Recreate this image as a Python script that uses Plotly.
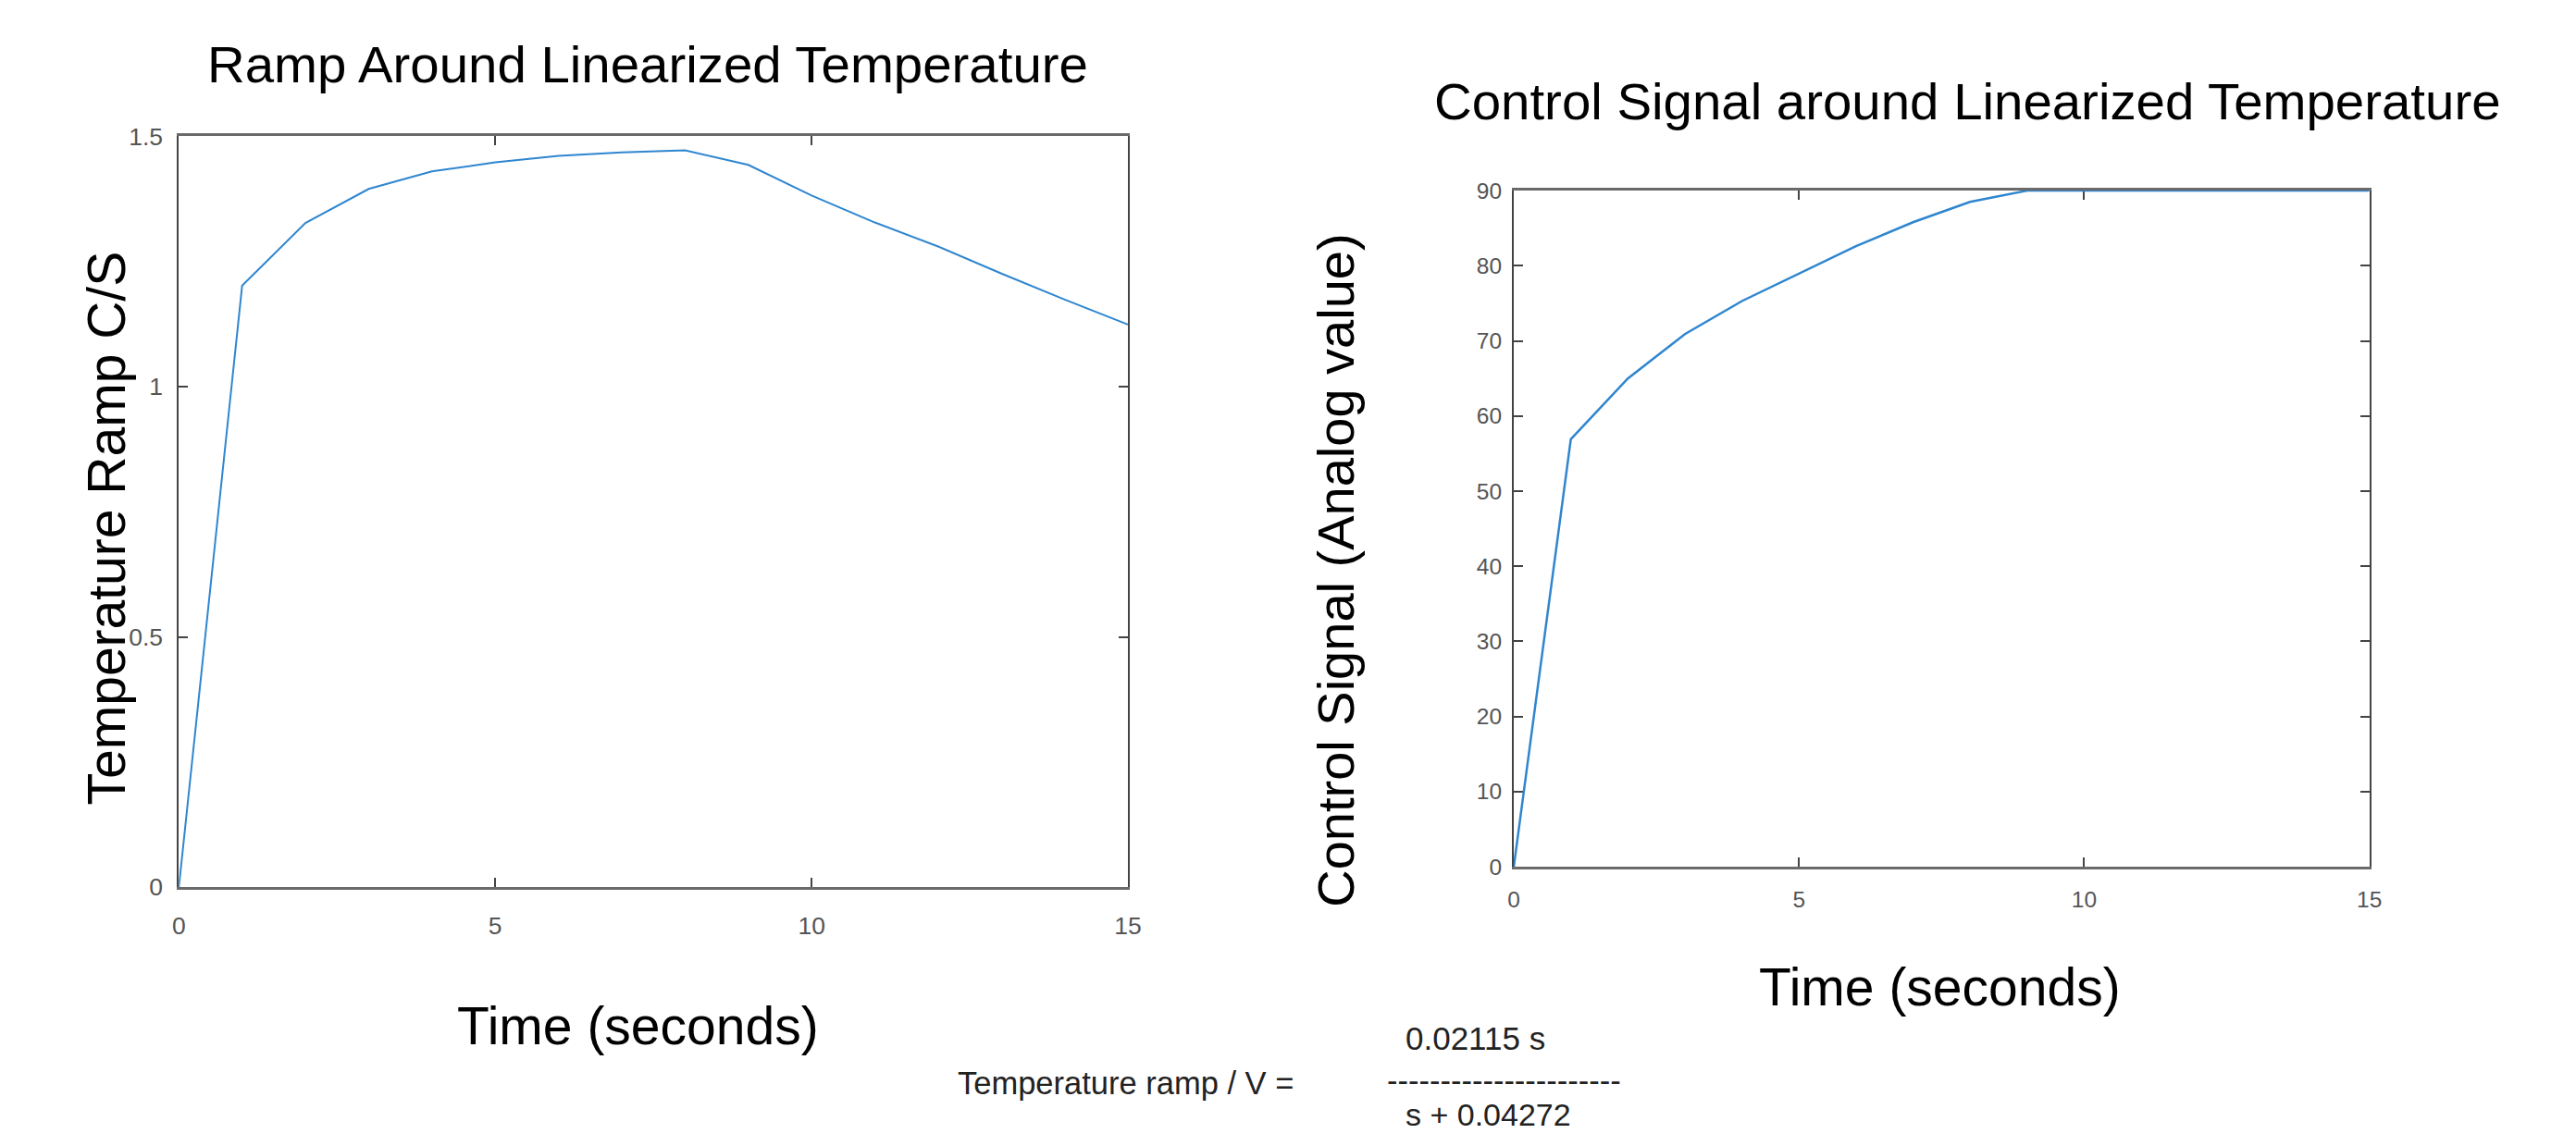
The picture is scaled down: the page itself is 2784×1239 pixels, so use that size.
import plotly.graph_objects as go

# ---- data ----
time_s = [0, 1, 2, 3, 4, 5, 6, 7, 8, 9, 10, 11, 12, 13, 14, 15]
temp_ramp = [0, 1.202, 1.327, 1.395, 1.430, 1.448, 1.461, 1.468, 1.472, 1.443,
             1.382, 1.328, 1.280, 1.226, 1.174, 1.124]
control_signal = [0, 56.9, 65.0, 70.9, 75.3, 79.0, 82.6, 85.8, 88.5, 90,
                  90, 90, 90, 90, 90, 90]

x_ticks = [0, 5, 10, 15]
left_y_ticks = [0, 0.5, 1, 1.5]
left_y_labels = ["0", "0.5", "1", "1.5"]
right_y_ticks = [0, 10, 20, 30, 40, 50, 60, 70, 80, 90]

OFF = 8
W, H = 2784 - 2 * OFF, 1239 - 2 * OFF
FONT = "Liberation Sans, Arial, sans-serif"
LINE = "#2f86cf"

# measured mapping page -> photographed picture
SX, TX = 0.9933, 8.5
SY, TY = 0.9764, 15.6


def px(x):
    return ((x - TX) / SX - OFF) / W


def py(y):
    return 1 - ((y - TY) / SY - OFF) / H


fig = go.Figure()
fig.add_trace(go.Scatter(x=time_s, y=temp_ramp, mode="lines",
                         line=dict(color=LINE, width=2), xaxis="x", yaxis="y",
                         showlegend=False))
fig.add_trace(go.Scatter(x=time_s, y=control_signal, mode="lines",
                         line=dict(color=LINE, width=2.5), xaxis="x2", yaxis="y2",
                         showlegend=False))

axis_common = dict(showgrid=False, zeroline=False, showline=True, mirror="ticks",
                   ticks="inside", ticklen=10, tickwidth=2, tickcolor="#444444")

fig.update_layout(
    width=W, height=H, margin=dict(l=0, r=0, t=0, b=0),
    paper_bgcolor="white", plot_bgcolor="white",
    xaxis=dict(domain=[px(195), px(1222)], range=[0, 15], tickvals=x_ticks,
               linecolor="#6a6a6a", linewidth=3, ticklabelstandoff=16,
               tickfont=dict(family=FONT, size=26.5, color="#555555"),
               anchor="y", **axis_common),
    yaxis=dict(domain=[py(960.5), py(148)], range=[0, 1.5], tickvals=left_y_ticks,
               ticktext=left_y_labels, linecolor="#444444", linewidth=2,
               tickfont=dict(family=FONT, size=26.5, color="#555555"),
               ticklabelstandoff=10, anchor="x", **axis_common),
    xaxis2=dict(domain=[px(1639.5), px(2565.3)], range=[0, 15], tickvals=x_ticks,
                linecolor="#6a6a6a", linewidth=3, ticklabelstandoff=12,
                tickfont=dict(family=FONT, size=24.5, color="#555555"),
                anchor="y2", layer="below traces", **axis_common),
    yaxis2=dict(domain=[py(938.3), py(206.7)], range=[0, 90], tickvals=right_y_ticks,
                linecolor="#444444", linewidth=2, ticklabelstandoff=6,
                tickfont=dict(family=FONT, size=24.5, color="#555555"),
                anchor="x2", layer="below traces", **axis_common),
)


def label(text, x, y, size, angle=0, xanchor="center", color="#000000"):
    fig.add_annotation(text=text, x=px(x), y=py(y), xref="paper", yref="paper",
                       xanchor=xanchor, yanchor="middle", showarrow=False,
                       textangle=angle, font=dict(family=FONT, size=size, color=color))


label("Ramp Around Linearized Temperature", 702, 70, 56.4)
label("Control Signal around Linearized Temperature", 2131, 110, 56.4)
label("Temperature Ramp C/S", 117, 572, 57, angle=-90)
label("Control Signal (Analog value)", 1446, 618, 56, angle=-90)
label("Time (seconds)", 692, 1110, 57)
label("Time (seconds)", 2101, 1068, 57)
label("Temperature ramp / V =", 1036, 1173, 34.5, xanchor="left", color="#222222")
label("0.02115 s", 1520, 1124, 35, xanchor="left", color="#222222")
label("-" * 22, 1500, 1170, 34.5, xanchor="left", color="#222222")
label("s + 0.04272", 1520, 1207, 34, xanchor="left", color="#222222")

fig.write_html("out.html")
